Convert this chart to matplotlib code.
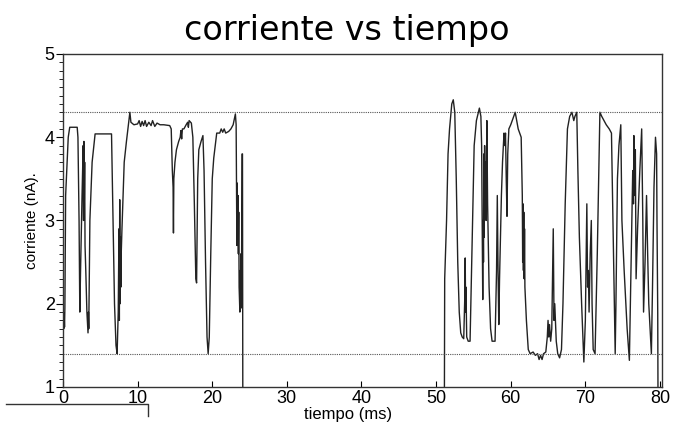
import matplotlib as mpl
mpl.use('Agg')
import matplotlib.pyplot as plt
import numpy as np
from matplotlib.lines import Line2D
from matplotlib.ticker import MultipleLocator

plt.rcParams['font.family'] = 'Liberation Sans'

# trace: time (ms), current (nA)
# values below 1 are the part of the trace that falls off the bottom of the axes
t_ms = [0.0, 0.05, 0.1, 0.15, 0.2, 0.25, 0.35, 0.5, 0.7, 0.9, 1.9, 2.0, 2.15, 2.25,
        2.35, 2.55, 2.7, 2.75, 2.8, 2.85, 2.9, 2.95, 3.05, 3.2, 3.35, 3.4, 3.45, 3.6,
        3.9, 4.3, 6.5, 6.7, 6.9, 7.1, 7.25, 7.4, 7.5, 7.55, 7.6, 7.65, 7.7, 7.75, 7.8,
        7.9, 8.2, 8.5, 8.96, 9.1, 9.5, 10.0, 10.2, 10.4, 10.6, 10.8, 11.0, 11.2, 11.5,
        11.8, 12.0, 12.3, 12.6, 13.0, 13.5, 14.3, 14.5, 14.65, 14.75, 14.8, 14.85, 15.0,
        15.2, 15.5, 15.7, 15.8, 15.9, 16.0, 16.2, 16.5, 16.7, 16.8, 16.9, 17.2, 17.4,
        17.6, 17.8, 17.9, 18.05, 18.2, 18.5, 18.75, 18.9, 19.1, 19.3, 19.45, 19.6, 19.8,
        20.0, 20.2, 20.6, 21.0, 21.2, 21.4, 21.6, 21.8, 22.2, 22.5, 22.8, 23.1, 23.2,
        23.3, 23.35, 23.4, 23.45, 23.5, 23.55, 23.6, 23.7, 23.75, 23.8, 23.85, 23.9,
        24.0, 24.05, 24.1,
        51.1, 51.15, 51.4, 51.6, 51.8, 52.1, 52.3, 52.5, 52.7, 52.9, 53.1, 53.3, 53.5,
        53.7, 53.85, 53.9, 53.95, 54.0, 54.1, 54.3, 54.55, 54.8, 55.1, 55.4, 55.8, 56.0,
        56.1, 56.25, 56.3, 56.35, 56.4, 56.45, 56.5, 56.55, 56.6, 56.7, 56.8, 56.9, 57.1,
        57.3, 57.5, 57.9, 58.1, 58.2, 58.3, 58.4, 58.5, 58.6, 58.75, 58.9, 59.1, 59.2,
        59.3, 59.4, 59.5, 59.6, 59.75, 60.0, 60.2, 60.4, 60.6, 60.8, 61.0, 61.2, 61.4,
        61.55, 61.6, 61.65, 61.7, 61.75, 61.8, 61.85, 61.9, 62.1, 62.35, 62.6, 63.0,
        63.3, 63.6, 63.8, 64.0, 64.2, 64.4, 64.7, 64.9, 65.0, 65.1, 65.2, 65.35, 65.5,
        65.7, 65.8, 65.9, 66.1, 66.3, 66.55, 66.8, 67.0, 67.3, 67.6, 67.9, 68.2, 68.45,
        68.6, 68.85, 69.0, 69.2, 69.5, 69.8, 70.0, 70.2, 70.3, 70.4, 70.5, 70.65, 70.8,
        70.9, 71.05, 71.3, 71.6, 71.8, 71.95, 72.2, 72.5, 72.8, 73.2, 73.5, 73.7, 74.0,
        74.1, 74.3, 74.5, 74.75, 74.9, 75.2, 75.6, 75.9, 76.2, 76.35, 76.45, 76.5, 76.6,
        76.7, 76.8, 77.0, 77.3, 77.55, 77.7, 77.8, 78.0, 78.2, 78.35, 78.5, 78.85, 79.0,
        79.2, 79.4, 79.55, 79.6, 79.7, 79.75]
i_nA = [1.75, 1.9, 1.7, 1.85, 1.72, 1.95, 3.3, 3.6, 4.0, 4.12, 4.12, 4.0, 3.0, 1.9,
        2.4, 3.3, 3.9, 3.0, 3.95, 3.2, 3.7, 2.7, 2.4, 1.9, 1.65, 1.9, 1.7, 3.0,
        3.7, 4.04, 4.04, 3.0, 2.0, 1.5, 1.4, 1.9, 2.9, 1.8, 3.25, 2.0, 2.8, 2.2, 2.6,
        2.9, 3.7, 3.95, 4.3, 4.18, 4.15, 4.16, 4.2, 4.13, 4.19, 4.14, 4.2, 4.13, 4.18,
        4.14, 4.2, 4.13, 4.17, 4.15, 4.15, 4.14, 4.1, 3.6, 3.4, 2.85, 3.5, 3.7,
        3.85, 3.95, 4.0, 4.08, 3.98, 4.1, 4.1, 4.15, 4.18, 4.12, 4.2, 4.17, 4.0,
        3.2, 2.3, 2.25, 3.5, 3.85, 3.95, 4.02, 3.6, 2.5, 1.6, 1.4, 1.6, 2.6,
        3.5, 3.75, 4.05, 4.05, 4.1, 4.06, 4.1, 4.05, 4.07, 4.1, 4.15, 4.28, 4.15,
        2.7, 3.45, 2.8, 3.3, 2.6, 3.1, 2.2, 1.9, 2.4, 2.1, 2.6, 1.95,
        3.8, 3.8, 0.5,
        0.5, 2.3, 3.0, 3.8, 4.1, 4.4, 4.45, 4.3, 3.5, 2.5, 1.9, 1.65, 1.6,
        1.58, 2.1, 2.55, 1.9, 2.2, 1.6, 1.55, 1.55, 2.6, 3.9, 4.2, 4.35, 4.25,
        3.9, 2.05, 3.0, 2.5, 3.8, 2.8, 3.9, 3.3, 3.7, 3.0, 4.2, 3.2, 2.2,
        1.7, 1.55, 1.55, 2.4, 3.3, 2.4, 1.75, 2.3, 2.7, 3.3, 3.7, 4.05, 3.9,
        4.05, 3.5, 3.05, 3.8, 4.1, 4.15, 4.2, 4.25, 4.3, 4.2, 4.1, 4.05, 4.0,
        3.3, 2.5, 3.2, 2.4, 3.1, 2.3, 2.9, 2.2, 1.8, 1.45, 1.4, 1.42,
        1.38, 1.4, 1.33, 1.38, 1.33, 1.4, 1.42, 1.6, 1.8, 1.6, 1.75, 1.55, 1.7,
        2.9, 1.8, 2.0, 1.55, 1.4, 1.35, 1.45, 2.0, 3.2, 4.1, 4.25, 4.3, 4.2,
        4.25, 4.3, 3.6, 2.8, 2.0, 1.3, 1.8, 3.2, 2.2, 2.4, 1.9, 2.6, 3.0,
        2.0, 1.45, 1.4, 2.6, 3.6, 4.3, 4.25, 4.2, 4.15, 4.1, 4.05, 3.0, 1.4,
        2.0, 3.5, 3.9, 4.15, 3.0, 2.4, 1.7, 1.32, 2.8, 3.6, 3.2, 4.02, 3.3,
        3.85, 2.3, 2.9, 3.6, 4.1, 3.0, 1.9, 2.5, 3.3, 2.6, 2.0, 1.4, 2.2,
        3.4, 4.0, 3.8, 3.0, 1.9, 0.5]
upper_level = 4.3
lower_level = 1.4

fig = plt.figure(figsize=(6.74, 4.32), dpi=100)
ax = fig.add_axes([0.0935, 0.1042, 0.889, 0.7708])

ax.plot(t_ms, i_nA, color='#222222', linewidth=1.0)
ax.axhline(upper_level, color='#555555', linestyle=(0, (1, 1)), linewidth=0.8)
ax.axhline(lower_level, color='#555555', linestyle=(0, (1, 1)), linewidth=0.8)

ax.set_xlim(0, 80.3)
ax.set_ylim(1, 5)
ax.xaxis.set_major_locator(MultipleLocator(10))
ax.yaxis.set_major_locator(MultipleLocator(1))
ax.yaxis.set_minor_locator(MultipleLocator(0.1))
ax.tick_params(axis='x', direction='in', length=4, labelsize=13, pad=2)
ax.tick_params(axis='y', which='major', direction='out', length=5, labelsize=13, pad=1)
ax.tick_params(axis='y', which='minor', direction='out', length=3)
for s in ax.spines.values():
    s.set_linewidth(1.0)
    s.set_color('#333333')

ax.set_title('corriente vs tiempo', fontsize=24, family='DejaVu Sans', pad=10, x=0.474)
ax.set_xlabel('tiempo (ms)', fontsize=12, labelpad=0, x=0.476)
ax.set_ylabel('corriente (nA).', fontsize=11, labelpad=4)

# stray scanned rule at the lower left
fig.add_artist(Line2D([6 / 674, 148 / 674, 148 / 674], [1 - 404 / 432, 1 - 404 / 432, 1 - 416 / 432],
                      color='#333333', linewidth=1.0))

plt.savefig('out.png', dpi=100)
